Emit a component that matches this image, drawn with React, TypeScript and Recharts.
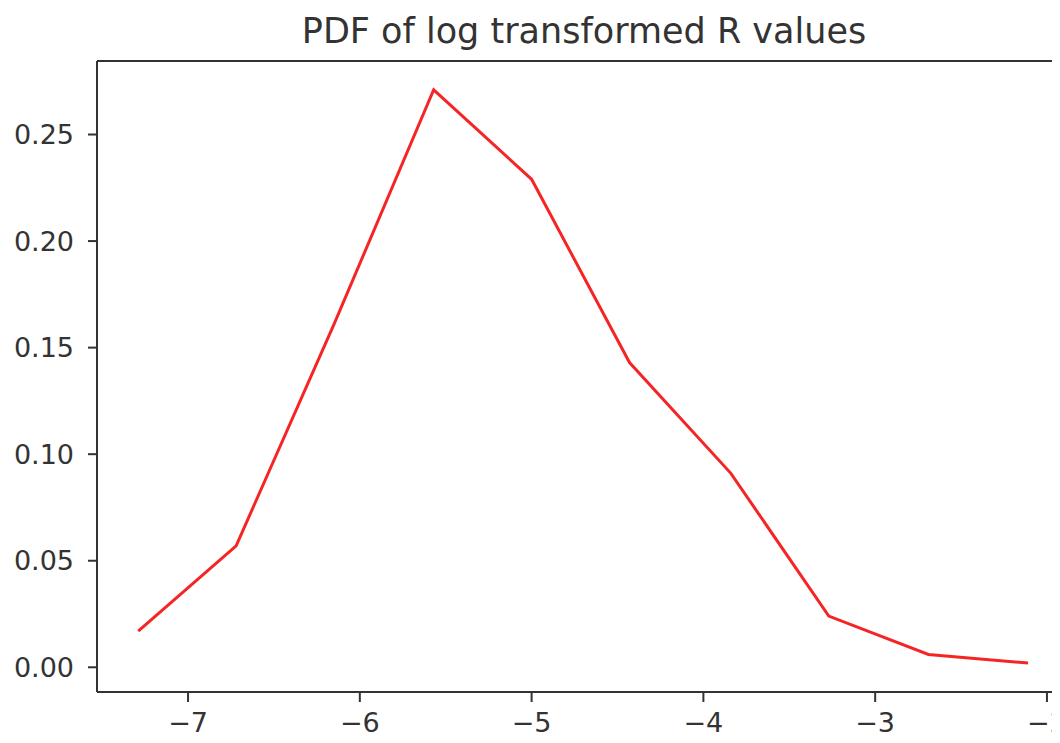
import React from "react";
import { LineChart, Line, XAxis, YAxis, ReferenceLine } from "recharts";

// log R bin centres and estimated density
const logR = [-7.29, -6.72, -6.15, -5.57, -5.0, -4.43, -3.84, -3.27, -2.69, -2.11];
const density = [0.017, 0.057, 0.161, 0.271, 0.229, 0.143, 0.091, 0.024, 0.006, 0.002];

const xTicks = [-7, -6, -5, -4, -3, -2];
const yTicks = [0, 0.05, 0.1, 0.15, 0.2, 0.25];

const X_DOMAIN: [number, number] = [-7.53, -1.86];
const Y_DOMAIN: [number, number] = [-0.0116, 0.2845];

const chartData = logR.map((x, i) => ({ x, pdf: density[i] }));

const FONT = "'DejaVu Sans', sans-serif";
const INK = "#333333";

export default function App() {
  return (
    <div style={{ position: "relative", margin: -8, width: 1060, height: 743, overflow: "hidden", background: "#fff" }}>
      <div
        style={{
          position: "absolute",
          top: 14,
          left: 0,
          width: 1168,
          textAlign: "center",
          fontFamily: FONT,
          fontSize: 35,
          lineHeight: "35px",
          color: INK,
          whiteSpace: "nowrap",
        }}
      >
        PDF of log transformed R values
      </div>
      <LineChart
        width={1080}
        height={743}
        data={chartData}
        margin={{ top: 61, right: 9, bottom: 0, left: 0 }}
      >
        <XAxis
          dataKey="x"
          type="number"
          domain={X_DOMAIN}
          ticks={xTicks}
          interval={0}
          allowDataOverflow
          height={51}
          tickSize={10}
          tickMargin={11}
          stroke={INK}
          strokeWidth={2}
          tick={{ fill: INK, fontSize: 27, fontFamily: FONT }}
          tickFormatter={(v: number) => String(v).replace("-", "\u2212")}
        />
        <YAxis
          type="number"
          domain={Y_DOMAIN}
          ticks={yTicks}
          interval={0}
          allowDataOverflow
          width={97}
          tickSize={9}
          tickMargin={14}
          stroke={INK}
          strokeWidth={2}
          tick={{ fill: INK, fontSize: 27, fontFamily: FONT }}
          tickFormatter={(v: number) => v.toFixed(2)}
        />
        <ReferenceLine y={Y_DOMAIN[1]} stroke={INK} strokeWidth={2} ifOverflow="visible" />
        <Line
          dataKey="pdf"
          type="linear"
          stroke="#f52525"
          strokeWidth={3}
          dot={false}
          isAnimationActive={false}
        />
      </LineChart>
    </div>
  );
}
